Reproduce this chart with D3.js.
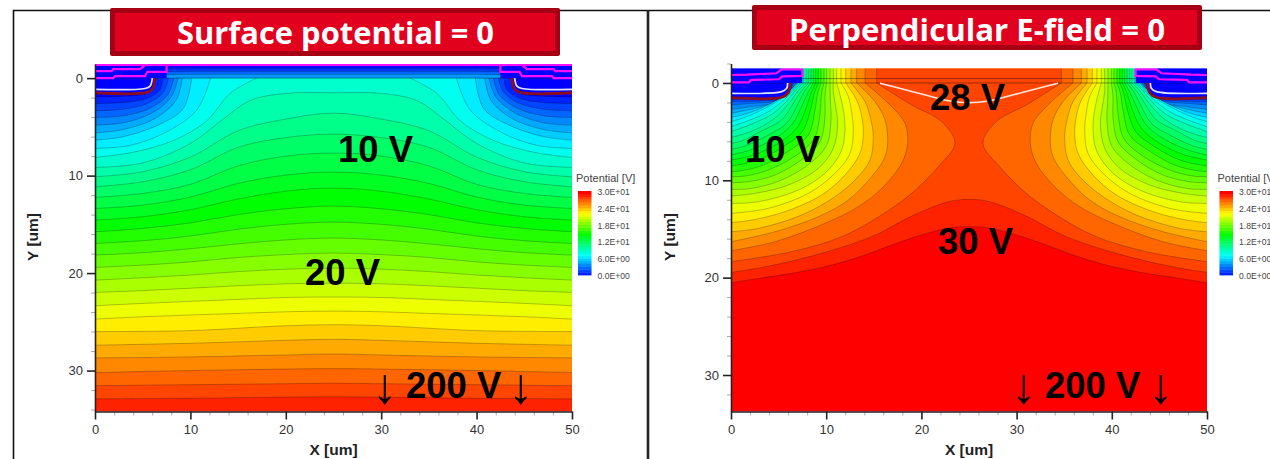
<!DOCTYPE html>
<html><head><meta charset="utf-8">
<script src="https://cdnjs.cloudflare.com/ajax/libs/d3/7.8.5/d3.min.js"></script>
<style>html,body{margin:0;padding:0;background:#fff;overflow:hidden}svg{display:block}</style>
</head><body><svg id="c" width="1270" height="459"></svg>
<script>
// ---------- data: half-device contours in um, [x, y], index = potential level in V ----------
const xTicks=[0,10,20,30,40,50];
const yTicks=[0,10,20,30];
const xMinor=[2,4,6,8,12,14,16,18,22,24,26,28,32,34,36,38,42,44,46,48];
const yMinorLeft=[2,4,6,8,12,14,16,18,22,24,26,28,32,34];
const yMinorRight=[-2,2,4,6,8,12,14,16,18,22,24,26,28,32];
const legendTicks=[0,6,12,18,24,30];
const legendLabels=["0.0E+00","6.0E+00","1.2E+01","1.8E+01","2.4E+01","3.0E+01"];
const colorStops=[0,7.5,15,22.5,30];
const colorNames=["#0000ff","#00ffff","#00ff00","#ffff00","#ff0000"];

const leftContours=[
[[0,1.91],[2.97,1.85],[5.42,1.57],[6.18,.89],[6.39,0]],
[[0,2.6],[2.97,2.5],[5.42,2.09],[6.8,1.2],[7.1,0]],
[[0,3.35],[2.97,3.18],[5.5,2.6],[7.2,1.4],[7.7,0]],
[[0,4.03],[2.97,3.86],[5.7,3.11],[7.6,1.74],[8.25,0]],
[[0,4.82],[2.97,4.58],[6,3.56],[8,1.91],[8.7,0]],
[[0,5.61],[2.97,5.27],[6.3,4.14],[8.5,2.26],[9.15,0]],
[[0,6.36],[3,6],[6.64,4.8],[9.26,3.11],[10.13,0]],
[[0,7.21],[3.67,6.9],[7.34,5.6],[10.66,3.28],[12.12,0]],
[[0,8.14],[4.02,7.6],[8.21,6.4],[11.7,4.4],[14.15,1.57],[16.95,0]],
[[0,9.16],[5,8.7],[10,6.7],[13.45,4.2],[16.25,2.3],[20,1.57],[25,1.5]],
[[0,10.12],[5,9.6],[10,8.1],[15,5.4],[20,4.2],[25,3.59]],
[[0,11.15],[5,10.63],[10,9.4],[15,7.1],[20,6.1],[25,5.74]],
[[0,12.24],[5,11.83],[10,10.9],[15,9],[20,8],[25,7.69]],
[[0,13.37],[5,13.03],[10,12.2],[15,10.8],[20,9.95],[25,9.64]],
[[0,14.56],[5,14.22],[10,13.5],[15,12.4],[20,11.6],[25,11.28]],
[[0,15.76],[5,15.42],[10,14.85],[15,14],[20,13.4],[25,13.13]],
[[0,16.96],[5,16.68],[10,16.2],[15,15.5],[20,15],[25,14.77]],
[[0,18.15],[5,17.91],[10,17.5],[15,17],[20,16.6],[25,16.41]],
[[0,19.42],[5,19.18],[10,18.85],[15,18.4],[20,18.1],[25,17.95]],
[[0,20.72],[5,20.48],[10,20.2],[15,19.85],[20,19.6],[25,19.49]],
[[0,21.98],[5,21.8],[10,21.55],[15,21.3],[20,21.1],[25,21.03]],
[[0,23.35],[5,23.11],[10,22.9],[15,22.7],[20,22.5],[25,22.46]],
[[0,24.72],[5,24.48],[10,24.3],[15,24.14],[20,23.97],[25,23.9]],
[[0,26],[10,25.9],[20,25.4],[25,25.3]],
[[0,27.4],[10,27.2],[20,26.9],[25,26.8]],
[[0,28.7],[10,28.6],[20,28.4],[25,28.3]],
[[0,30.2],[10,30],[20,29.85],[25,29.8]],
[[0,31.55],[10,31.45],[20,31.35],[25,31.3]],
[[0,32.9],[10,32.85],[20,32.72],[25,32.7]]
];

const rightContours=[
[[0,1.51],[5.32,1.47],[6.02,.99],[6.27,0]],
[[0,1.68],[2.87,1.64],[5.39,1.54],[6.13,.92],[6.37,0]],
[[0,1.92],[2.87,1.85],[5.32,1.68],[6.2,.89],[6.51,0]],
[[0,2.26],[2.17,2.09],[4.62,1.88],[5.78,1.34],[6.48,.65],[6.62,0]],
[[0,2.71],[2.17,2.43],[4.62,2.02],[5.92,1.13],[6.62,.55],[6.76,0]],
[[0,3.12],[2.52,2.6],[4.8,1.92],[6.09,.99],[6.9,0]],
[[0,3.53],[1.12,3.29],[3.05,2.64],[5.32,1.47],[6.3,.65],[7.07,0]],
[[0,3.97],[1.47,3.53],[3.57,2.6],[5.5,1.47],[6.37,.72],[7.25,0]],
[[0,4.49],[1.82,3.87],[3.92,2.95],[5.74,1.58],[6.55,.72],[7.42,0]],
[[0,5],[2.35,4.15],[4.45,3.12],[6.02,1.68],[6.79,.72],[7.63,0]],
[[0,5.58],[.77,5.41],[2.87,4.66],[4.8,3.46],[6.3,1.82],[7.07,.79],[7.88,0]],
[[0,6.2],[1.12,5.96],[3.4,4.83],[5.32,3.8],[6.65,1.92],[7.35,.89],[8.12,0]],
[[0,6.82],[1.47,6.47],[3.92,5.34],[5.85,4.15],[7.07,2.09],[7.7,.89],[8.4,0]],
[[0,7.4],[1.82,6.95],[4.45,5.79],[6.37,4.32],[7.49,2.26],[8.05,1.06],[8.65,0]],
[[0,7.91],[2.35,7.4],[4.97,6.2],[6.9,4.66],[7.95,2.43],[8.4,1.06],[8.89,0]],
[[0,8.53],[2.87,7.91],[5.5,6.54],[7.49,5],[8.4,2.6],[8.75,1.06],[9.17,0]],
[[0,9.11],[1.12,9],[3.4,8.43],[6.2,6.89],[8.12,5.34],[8.82,2.78],[9.1,1.06],[9.45,0]],
[[0,9.63],[1.47,9.56],[3.92,8.94],[6.9,7.4],[8.75,5.69],[9.35,3.12],[9.52,1.06],[9.77,0]],
[[0,10.24],[1.82,10.14],[4.62,9.46],[7.6,7.74],[9.35,6.03],[9.87,3.46],[9.87,1.4],[10.05,0]],
[[0,10.93],[2.17,10.83],[5.32,9.97],[8.3,8.26],[10.05,6.37],[10.5,3.8],[10.43,1.75],[10.4,0]],
[[0,11.61],[2.52,11.34],[6.02,10.48],[9.17,8.77],[10.75,6.71],[11.2,4.15],[10.99,2.43],[10.75,.89],[10.75,0]],
[[0,12.37],[2.87,12.2],[7.07,11],[10.05,9.11],[11.63,6.89],[11.97,4.49],[11.8,2.78],[11.45,1.23],[11.1,0]],
[[0,13.4],[3.92,12.88],[8.12,11.34],[10.92,9.28],[12.5,7.23],[12.85,4.83],[12.68,3.12],[12.33,1.4],[11.55,0]],
[[0,14.35],[2.17,14.08],[5.67,13.22],[9.52,11.51],[11.97,9.46],[13.55,7.23],[13.9,5.17],[13.73,3.46],[13.2,1.75],[12.05,0]],
[[0,15.28],[2.87,14.94],[7.42,13.57],[10.92,11.68],[13.2,9.8],[14.6,7.91],[14.95,5.52],[14.7,3.8],[14.08,1.92],[12.6,0]],
[[0,16.31],[4.62,15.28],[9.17,13.74],[12.33,12.02],[14.78,9.63],[16.18,7.57],[16.46,5.86],[16.18,3.8],[15.13,1.92],[13.2,0]],
[[0,17.23],[4.62,16.31],[9.87,14.42],[13.38,12.71],[15.83,10.83],[17.93,8.26],[18.56,6.2],[18.28,4.15],[16.88,2.43],[14.08,0]],
[[0,18.36],[6.37,17.33],[11.63,15.79],[15.65,13.67],[18.98,11.34],[21.78,8.6],[23.53,6.2],[22.13,3.97],[18.98,2.26],[15.3,0]],
[[0,19.46],[3,19],[6.4,18.3],[9.9,17.4],[13.4,16.3],[15.65,15.4],[19.15,13.6],[22.83,12.2],[25,11.96]],
[[0,20.52],[2.87,20.08],[6.37,19.56],[9.87,18.88],[13.38,17.9],[15.65,17.1],[18.45,16.1],[22.65,14.94],[25,14.76]]
];

// oxide layer stripes in the left panel: [y top, y bottom, potential]
const leftOxide=[[-1.45,-.95,.5],[-.95,-.65,1.6],[-.65,-.35,3],[-.35,0,4.5]];
// oxide interface lines in the right panel
const rightOxideLines=[-.45,0];

// structure outlines, half device
const leftPinkUpper=[[0,-.72],[1.75,-.72],[1.92,-.92],[4.72,-.92],[5.24,-1.33]];
const leftPinkLower=[[0,0],[1.92,0],[2.1,-.2],[5.25,-.2],[5.49,-.65],[7.51,-.65],[7.51,-1.33]];
const leftWhite=[[0,1.16],[5.24,1.06],[5.77,.82],[6.01,0]];
const leftRed=[[0,1.5],[5.42,1.47],[6.05,1.06],[6.29,0]];
const rightPink=[[0,-.82],[1.65,-.85],[4.8,-1],[5.32,-1.4],[7.49,-1.4],[7.49,-.72],[5.39,-.68],[5.04,-.38],[2.1,-.31],[1.89,-.07],[0,-.07]];
const rightWhite=[[0,1.06],[5.32,.89],[5.85,.55],[5.95,0]];
const rightRed=[[0,1.51],[5.32,1.47],[6.02,.99],[6.27,0]];
const rightCurrent=[[15.65,.03],[19.1,.9],[22.7,1.8],[24,1.98],[25,2.02]];

const titles=["Surface potential = 0","Perpendicular E-field = 0"];

// ---------- rendering ----------
const svg=d3.select("#c");
const color=d3.scaleLinear().domain(colorStops).range(colorNames);
const defs=svg.append("defs");
defs.append("filter").attr("id","soft").attr("x","-2%").attr("y","-2%").attr("width","104%").attr("height","104%")
  .append("feGaussianBlur").attr("stdDeviation",.45);

// page frames
svg.append("path").attr("d","M13.5,459V10.5H1270").attr("fill","none").attr("stroke","#111").attr("stroke-width",1.6);
svg.append("path").attr("d","M648,10V459").attr("fill","none").attr("stroke","#222").attr("stroke-width",2.6);

function mirror(pts){return pts.slice().reverse().map(p=>[50-p[0],p[1]]);}

function panel(o){
  const g=svg.append("g");
  const x=d3.scaleLinear().domain([0,50]).range(o.xr);
  const y=d3.scaleLinear().domain(o.yd).range(o.yr);
  const pl=d3.line().x(p=>x(p[0])).y(p=>y(p[1]));
  const line=d3.line().x(p=>x(p[0])).y(p=>y(p[1])).curve(d3.curveCatmullRom.alpha(.5));
  const id="clip"+o.id;
  defs.append("clipPath").attr("id",id).append("rect")
    .attr("x",x(0)).attr("width",x(50)-x(0)).attr("y",y(o.top)).attr("height",y(o.bottom)-y(o.top));
  const plot=g.append("g").attr("clip-path",`url(#${id})`).attr("filter","url(#soft)");
  plot.append("rect").attr("x",x(0)).attr("width",x(50)-x(0)).attr("y",y(o.top)).attr("height",y(o.bottom)-y(o.top)).attr("fill",color(0));

  o.contours.forEach((c,level)=>{
    const last=c[c.length-1];
    const closeBase=`L${x(50)},${y(o.bottom)}L${x(0)},${y(o.bottom)}Z`;
    let fill,stroke;
    if(last[1]===0){
      const a=line(c), b=line(mirror(c));
      fill=a+`L${x(last[0])},${y(o.top)}L${x(50-last[0])},${y(o.top)}L${x(50-last[0])},${y(0)}`+b.replace(/^M/,"L")+closeBase;
      stroke=a+`L${x(last[0])},${y(o.top)}`+`M${x(50-last[0])},${y(o.top)}L${x(50-last[0])},${y(0)}`+b.replace(/^M/,"L");
    }else{
      const a=line(c.concat(mirror(c).slice(1)));
      fill=a+closeBase; stroke=a;
    }
    plot.append("path").attr("d",fill).attr("fill",color(level+1));
    plot.append("path").attr("d",stroke).attr("fill","none").attr("stroke","#000").attr("stroke-opacity",.32).attr("stroke-width",.75);
  });

  if(o.oxide){
    o.oxide.forEach(s=>{
      plot.append("rect").attr("x",x(0)).attr("width",x(50)-x(0)).attr("y",y(s[0])).attr("height",y(s[1])-y(s[0])).attr("fill",color(s[2]));
      plot.append("line").attr("x1",x(0)).attr("x2",x(50)).attr("y1",y(s[1])).attr("y2",y(s[1])).attr("stroke","#000").attr("stroke-opacity",.4).attr("stroke-width",.9);
    });
  }
  if(o.oxideLines){
    o.oxideLines.forEach(v=>plot.append("line").attr("x1",x(0)).attr("x2",x(50)).attr("y1",y(v)).attr("y2",y(v)).attr("stroke","#000").attr("stroke-opacity",.42).attr("stroke-width",.9));
  }
  // blue structure under the magenta outlines, both sides
  [0,50-o.pinkEnd].forEach(x0=>plot.append("rect").attr("x",x(x0)).attr("width",x(o.pinkEnd)-x(0)).attr("y",y(o.top)).attr("height",y(0)-y(o.top)).attr("fill",color(0)));
  const both=(pts,col,w)=>[pts,mirror(pts)].forEach(p=>plot.append("path").attr("d",line(p)).attr("fill","none").attr("stroke",col).attr("stroke-width",w));
  both(o.red,"#8b0a22",2.8);
  both(o.white,"#e4e4ff",1.7);
  o.pink.forEach(p=>[p,mirror(p)].forEach(q=>plot.append("path").attr("d",pl(q)).attr("fill","none").attr("stroke","#ff10ff").attr("stroke-width",2.2)));
  if(o.topPink) plot.append("line").attr("x1",x(0)).attr("x2",x(50)).attr("y1",y(o.top)+1).attr("y2",y(o.top)+1).attr("stroke","#ff10ff").attr("stroke-width",2);
  if(o.current) plot.append("path").attr("d",line(o.current.concat(mirror(o.current).slice(1)))).attr("fill","none").attr("stroke","#f4e8e0").attr("stroke-width",1.6);

  // axes
  const styleMajor=s=>{s.select(".domain").attr("stroke","#222").attr("stroke-width",1.6);s.selectAll(".tick line").attr("stroke","#222").attr("stroke-width",1.6);
    s.selectAll("text").attr("font-family","'Liberation Sans',Arial,sans-serif").attr("font-size",13).attr("fill","#333");};
  const styleMinor=s=>{s.select(".domain").remove();s.selectAll(".tick line").attr("stroke","#aaa").attr("stroke-width",1);s.selectAll("text").remove();};
  g.append("g").attr("transform",`translate(0,${y(o.bottom)})`).call(d3.axisBottom(x).tickValues(xMinor).tickSize(4)).call(styleMinor);
  g.append("g").attr("transform",`translate(${x(0)},0)`).call(d3.axisLeft(y).tickValues(o.yMinor).tickSize(4)).call(styleMinor);
  g.append("g").attr("transform",`translate(0,${y(o.bottom)})`).call(d3.axisBottom(x).tickValues(xTicks).tickSize(8).tickSizeOuter(0).tickPadding(5).tickFormat(d3.format("d"))).call(styleMajor);
  g.append("g").attr("transform",`translate(${x(0)},0)`).call(d3.axisLeft(y).tickValues(yTicks).tickSize(8).tickSizeOuter(0).tickPadding(4).tickFormat(d3.format("d"))).call(styleMajor);
  g.append("text").attr("x",(x(0)+x(50))/2).attr("y",455).attr("text-anchor","middle").attr("font-family","'Liberation Sans',Arial,sans-serif").attr("font-weight","bold").attr("font-size",15.5).attr("fill","#222").text("X [um]");
  g.append("text").attr("transform",`translate(${o.yLabelX},${o.yLabelY}) rotate(-90)`).attr("text-anchor","middle").attr("font-family","'Liberation Sans',Arial,sans-serif").attr("font-weight","bold").attr("font-size",15.5).attr("fill","#222").text("Y [um]");

  // legend
  const ly=d3.scaleLinear().domain([0,30]).range([275,191]);
  const lg=g.append("g");
  d3.range(0,30).forEach(v=>lg.append("rect").attr("x",o.legX).attr("width",13.5).attr("y",ly(v+1)).attr("height",ly(v)-ly(v+1)+.4).attr("fill",color(v+1)));
  lg.append("text").attr("x",o.legX-2).attr("y",182).attr("font-family","'Liberation Sans',Arial,sans-serif").attr("font-size",11).attr("fill","#444").text("Potential [V]");
  legendTicks.forEach((t,i)=>lg.append("text").attr("x",o.legX+19.5).attr("y",ly(t)+4).attr("font-family","'Liberation Sans',Arial,sans-serif").attr("font-size",8.6).attr("fill","#444").text(legendLabels[i]));

  // title banner
  const b=o.banner;
  g.append("rect").attr("x",b.x).attr("y",b.y).attr("width",b.w).attr("height",b.h).attr("rx",2).attr("fill","#a50014");
  g.append("rect").attr("x",b.x+5).attr("y",b.y+5).attr("width",b.w-10).attr("height",b.h-10).attr("fill","#e2001f");
  g.append("text").attr("x",b.tx).attr("y",b.ty).attr("textLength",b.tw).attr("lengthAdjust","spacingAndGlyphs").attr("font-family","'Open Sans',sans-serif").attr("font-weight","bold").attr("font-size",30).attr("fill","#fff").text(o.title);

  // annotations
  o.notes.forEach(n=>g.append("text").attr("x",n[1]).attr("y",n[2]).attr("font-family","'Liberation Sans',Arial,sans-serif").attr("font-weight","bold").attr("font-size",36.5).attr("fill","#000").text(n[0]));
  o.arrows.forEach(a=>g.append("text").attr("x",a).attr("y",403).attr("text-anchor","middle").attr("font-family","'Liberation Sans',sans-serif").attr("font-size",50).attr("fill","#000").text("↓"));
}

panel({id:"L",xr:[95,572],yd:[-1.45,34.2],yr:[64,411.5],top:-1.45,bottom:34.2,contours:leftContours,oxide:leftOxide,
  pinkEnd:7.51,pink:[leftPinkUpper,leftPinkLower],topPink:true,white:leftWhite,red:leftRed,yMinor:yMinorLeft,
  yLabelX:38,yLabelY:237,legX:578,title:titles[0],
  banner:{x:110,y:8,w:450,h:48,tx:177,ty:44,tw:317},
  notes:[["10 V",338,162],["20 V",305,285],["200 V",406,398]],arrows:[385,521]});
panel({id:"R",xr:[731,1207],yd:[-2,33.75],yr:[63.5,411.5],top:-1.5,bottom:33.75,contours:rightContours,oxideLines:rightOxideLines,
  pinkEnd:7.49,pink:[rightPink],white:rightWhite,red:rightRed,current:rightCurrent,yMinor:yMinorRight,
  yLabelX:675,yLabelY:237,legX:1219.5,title:titles[1],
  banner:{x:752,y:5,w:450,h:45,tx:789,ty:41,tw:376},
  notes:[["10 V",745,162],["28 V",930,110],["30 V",938,254],["200 V",1045,398]],arrows:[1024,1161]});
</script></body></html>
